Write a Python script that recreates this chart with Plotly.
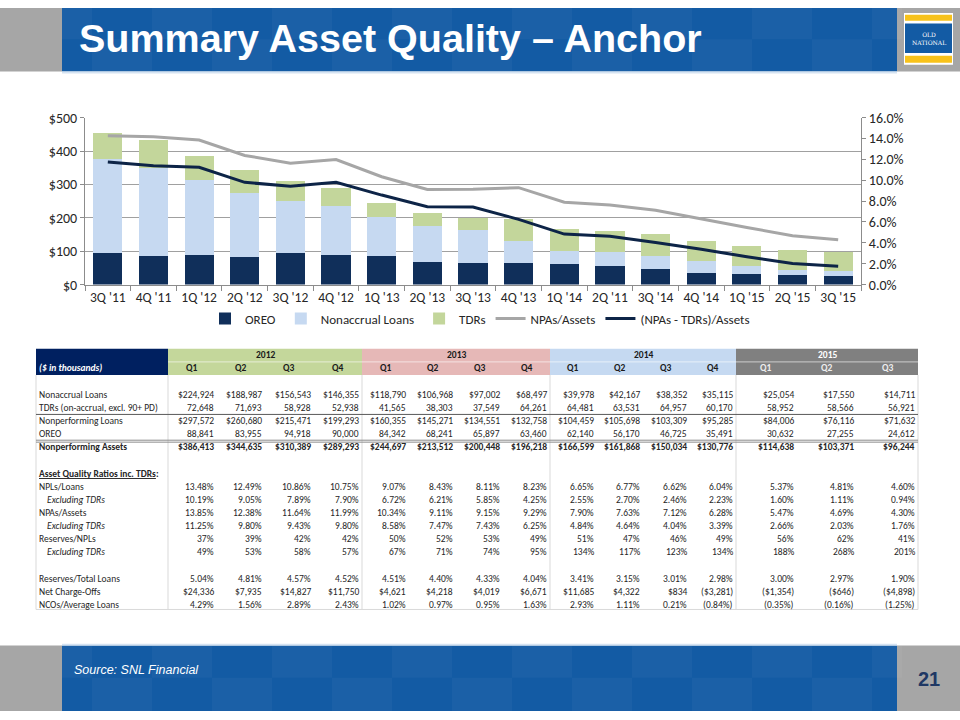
import plotly.graph_objects as go

# ---------------- chart data ($ millions / %) ----------------
quarters = ["3Q '11", "4Q '11", "1Q '12", "2Q '12", "3Q '12", "4Q '12", "1Q '13", "2Q '13",
            "3Q '13", "4Q '13", "1Q '14", "2Q '11", "3Q '14", "4Q '14", "1Q '15", "2Q '15", "3Q '15"]
oreo_m = [94.4, 87.0, 88.8, 84.0, 94.9, 90.0, 84.3, 68.2, 65.9, 63.5, 62.1, 56.2, 46.7, 35.5, 30.6, 27.3, 24.6]
nonaccrual_m = [281.0, 262.0, 224.9, 189.0, 156.5, 146.4, 118.8, 107.0, 97.0, 68.5, 40.0, 42.2, 38.4, 35.1, 25.1, 17.6, 14.7]
tdrs_m = [80.0, 85.0, 72.6, 71.7, 58.9, 52.9, 41.6, 38.3, 37.5, 64.3, 64.5, 63.5, 65.0, 60.2, 59.0, 58.6, 56.9]
npas_assets_pct = [14.27, 14.18, 13.85, 12.38, 11.64, 11.99, 10.34, 9.11, 9.15, 9.29, 7.90, 7.63, 7.12, 6.28, 5.47, 4.69, 4.30]
npas_ex_tdrs_pct = [11.75, 11.38, 11.25, 9.80, 9.43, 9.80, 8.58, 7.47, 7.43, 6.25, 4.84, 4.64, 4.04, 3.39, 2.66, 2.03, 1.76]

# ---------------- table data ($ thousands / %) ----------------
years = ["2012", "2013", "2014", "2015"]
year_quarters = [["Q1", "Q2", "Q3", "Q4"], ["Q1", "Q2", "Q3", "Q4"], ["Q1", "Q2", "Q3", "Q4"], ["Q1", "Q2", "Q3"]]
nonaccrual = [224924, 188987, 156543, 146355, 118790, 106968, 97002, 68497, 39978, 42167, 38352, 35115, 25054, 17550, 14711]
tdrs = [72648, 71693, 58928, 52938, 41565, 38303, 37549, 64261, 64481, 63531, 64957, 60170, 58952, 58566, 56921]
npls = [297572, 260680, 215471, 199293, 160355, 145271, 134551, 132758, 104459, 105698, 103309, 95285, 84006, 76116, 71632]
oreo = [88841, 83955, 94918, 90000, 84342, 68241, 65897, 63460, 62140, 56170, 46725, 35491, 30632, 27255, 24612]
npas = [386413, 344635, 310389, 289293, 244697, 213512, 200448, 196218, 166599, 161868, 150034, 130776, 114638, 103371, 96244]
npls_loans = [13.48, 12.49, 10.86, 10.75, 9.07, 8.43, 8.11, 8.23, 6.65, 6.77, 6.62, 6.04, 5.37, 4.81, 4.60]
npls_loans_ex = [10.19, 9.05, 7.89, 7.90, 6.72, 6.21, 5.85, 4.25, 2.55, 2.70, 2.46, 2.23, 1.60, 1.11, 0.94]
npas_assets = [13.85, 12.38, 11.64, 11.99, 10.34, 9.11, 9.15, 9.29, 7.90, 7.63, 7.12, 6.28, 5.47, 4.69, 4.30]
npas_assets_ex = [11.25, 9.80, 9.43, 9.80, 8.58, 7.47, 7.43, 6.25, 4.84, 4.64, 4.04, 3.39, 2.66, 2.03, 1.76]
reserves_npls = [37, 39, 42, 42, 50, 52, 53, 49, 51, 47, 46, 49, 56, 62, 41]
reserves_npls_ex = [49, 53, 58, 57, 67, 71, 74, 95, 134, 117, 123, 134, 188, 268, 201]
reserves_loans = [5.04, 4.81, 4.57, 4.52, 4.51, 4.40, 4.33, 4.04, 3.41, 3.15, 3.01, 2.98, 3.00, 2.97, 1.90]
net_chargeoffs = [24336, 7935, 14827, 11750, 4621, 4218, 4019, 6671, 11685, 4322, 834, -3281, -1354, -646, -4898]
ncos_avg_loans = [4.29, 1.56, 2.89, 2.43, 1.02, 0.97, 0.95, 1.63, 2.93, 1.11, 0.21, -0.84, -0.35, -0.16, -1.25]

# ---------------- helpers ----------------
W, H = 960, 720
def px(x):
    return x / W
def py(y):
    return 1 - y / H

def f_dollar(v):
    s = "${:,}".format(abs(v))
    return "(" + s + ")" if v < 0 else s
def f_int(v):
    return "{:,}".format(v)
def f_pct2(v):
    s = "{:.2f}%".format(abs(v))
    return "(" + s + ")" if v < 0 else s
def f_pct0(v):
    return "{}%".format(v)

NAVY = "#102F5A"
LINE_NAVY = "#0D2447"
CHART_FONT = "Carlito, Calibri, Lato, sans-serif"
TABLE_FONT = "Carlito, Calibri, Lato, sans-serif"
TITLE_FONT = "'Liberation Sans', Arial, sans-serif"

fig = go.Figure()
fig.add_trace(go.Bar(x=quarters, y=oreo_m, name="OREO", marker_color=NAVY, marker_line_width=0))
fig.add_trace(go.Bar(x=quarters, y=nonaccrual_m, name="Nonaccrual Loans", marker_color="#C6D9F1", marker_line_width=0))
fig.add_trace(go.Bar(x=quarters, y=tdrs_m, name="TDRs", marker_color="#C3D69B", marker_line_width=0))
fig.add_trace(go.Scatter(x=quarters, y=npas_assets_pct, name="NPAs/Assets", mode="lines",
                         line=dict(color="#A6A6A6", width=3), yaxis="y2"))
fig.add_trace(go.Scatter(x=quarters, y=npas_ex_tdrs_pct, name="(NPAs - TDRs)/Assets", mode="lines",
                         line=dict(color=LINE_NAVY, width=3), yaxis="y2"))

shapes = []
ann = []

def rect(x0, y0, x1, y1, color, layer="above"):
    shapes.append(dict(type="rect", xref="paper", yref="paper", x0=px(x0), x1=px(x1),
                       y0=py(y1), y1=py(y0), fillcolor=color, line=dict(width=0), layer=layer))

def hline(x0, x1, y, color, width=1):
    shapes.append(dict(type="line", xref="paper", yref="paper", x0=px(x0), x1=px(x1),
                       y0=py(y), y1=py(y), line=dict(color=color, width=width)))

def vline(x, y0, y1, color, width=1):
    shapes.append(dict(type="line", xref="paper", yref="paper", x0=px(x), x1=px(x),
                       y0=py(y0), y1=py(y1), line=dict(color=color, width=width)))

def text(x, y, s, size=10, color="#262626", xanchor="left", family=TABLE_FONT):
    ann.append(dict(x=px(x), y=py(y), xref="paper", yref="paper", text=s, showarrow=False,
                    xanchor=xanchor, yanchor="middle", font=dict(size=size, color=color, family=family)))

# ---------------- header band ----------------
rect(0, 0, 62, 65, "#A6A6A6")
rect(897, 0, 960, 65, "#A6A6A6")
rect(62, 0, 897, 65, "#135BA4")
for i in range(0, 14):
    rect(62 + 60 * i + (30 if i % 2 else 0), 0, 62 + 60 * i + (30 if i % 2 else 0) + 30, 32, "rgba(255,255,255,0.035)")
    rect(62 + 60 * i + (0 if i % 2 else 30), 32, 62 + 60 * i + (0 if i % 2 else 30) + 30, 65, "rgba(255,255,255,0.035)")
rect(62, 65, 897, 67, "#D5E3F2")
text(77, 31, "<b>Summary Asset Quality – Anchor</b>", size=39.5, color="white", family=TITLE_FONT)
# logo
rect(904, 5, 953, 58, "white")
rect(905, 7, 952, 13, "#F7C21B")
rect(905, 16, 952, 46, "#135BA4")
rect(905, 49, 952, 56, "#F7C21B")
ann.append(dict(x=px(928.5), y=py(31), xref="paper", yref="paper", showarrow=False,
                text="OLD<br>NATIONAL", align="center", xanchor="center", yanchor="middle",
                font=dict(size=6, color="white", family="'DejaVu Serif', 'Liberation Serif', serif")))

# ---------------- footer band ----------------
rect(0, 653, 62, 720, "#A6A6A6")
rect(897, 653, 960, 720, "#A6A6A6")
rect(62, 653, 897, 720, "#135BA4")
for i in range(0, 14):
    rect(62 + 60 * i + (30 if i % 2 else 0), 653, 62 + 60 * i + (30 if i % 2 else 0) + 30, 686, "rgba(255,255,255,0.035)")
    rect(62 + 60 * i + (0 if i % 2 else 30), 686, 62 + 60 * i + (0 if i % 2 else 30) + 30, 720, "rgba(255,255,255,0.035)")
rect(62, 651, 897, 653, "#D5E3F2")
text(72, 678, "<i>Source: SNL Financial</i>", size=12.5, color="white", family="'Liberation Sans', Arial, sans-serif")
text(929, 687, "<b>21</b>", size=20, color="#1F3864", xanchor="center", family=TITLE_FONT)

# ---------------- table ----------------
T_TOP = 349.0
RH = 13.45
T_LEFT = 36.0
LABEL_R = 168.0
group_edges = [168.0, 362.0, 550.0, 736.0, 918.0]
group_fill = ["#C4D79B", "#E6B8B7", "#C5D9F1", "#808080"]
group_text = ["#1a1a1a", "#1a1a1a", "#1a1a1a", "white"]

def row_c(i):
    return T_TOP + (i + 0.5) * RH
def row_top(i):
    return T_TOP + i * RH

col_l, col_r = [], []
for g in range(4):
    n = len(year_quarters[g])
    w = (group_edges[g + 1] - group_edges[g]) / n
    for k in range(n):
        col_l.append(group_edges[g] + k * w)
        col_r.append(group_edges[g] + (k + 1) * w)

rect(T_LEFT, row_top(0), LABEL_R, row_top(2), "#002060")
for g in range(4):
    rect(group_edges[g], row_top(0), group_edges[g + 1], row_top(2), group_fill[g])
hline(LABEL_R, group_edges[-1], row_top(1), "rgba(255,255,255,0.6)", 1)
text(T_LEFT + 1, row_c(1), "<b><i>($ in thousands)</i></b>", size=9.5, color="white")
ci = 0
for g in range(4):
    text((group_edges[g] + group_edges[g + 1]) / 2, row_c(0), "<b>" + years[g] + "</b>", size=9.5,
         color=group_text[g], xanchor="center")
    for q in year_quarters[g]:
        text((col_l[ci] + col_r[ci]) / 2, row_c(1), "<b>" + q + "</b>", size=9.5,
             color=("#1a1a1a" if g < 3 else "#EEEEEE"), xanchor="center")
        ci += 1

body_bottom = row_top(20) - 2
for x in [T_LEFT] + group_edges:
    vline(x, row_top(2), body_bottom, "#D9D9D9", 1)
hline(T_LEFT, group_edges[-1], body_bottom, "#D9D9D9", 1)
hline(T_LEFT, group_edges[-1], row_top(5), "#595959", 1)
hline(T_LEFT, group_edges[-1], row_top(7) - 0.5, "#8C8C8C", 1)
hline(T_LEFT, group_edges[-1], row_top(7) + 1.5, "#8C8C8C", 1)

rows = [
    (3, "Nonaccrual Loans", nonaccrual, f_dollar, ""),
    (4, "TDRs (on-accrual, excl. 90+ PD)", tdrs, f_int, ""),
    (5, "Nonperforming Loans", npls, f_dollar, ""),
    (6, "OREO", oreo, f_int, ""),
    (7, "Nonperforming Assets", npas, f_dollar, "b"),
    (10, "NPLs/Loans", npls_loans, f_pct2, ""),
    (11, "Excluding TDRs", npls_loans_ex, f_pct2, "i"),
    (12, "NPAs/Assets", npas_assets, f_pct2, ""),
    (13, "Excluding TDRs", npas_assets_ex, f_pct2, "i"),
    (14, "Reserves/NPLs", reserves_npls, f_pct0, ""),
    (15, "Excluding TDRs", reserves_npls_ex, f_pct0, "i"),
    (17, "Reserves/Total Loans", reserves_loans, f_pct2, ""),
    (18, "Net Charge-Offs", net_chargeoffs, f_dollar, ""),
    (19, "NCOs/Average Loans", ncos_avg_loans, f_pct2, ""),
]
text(T_LEFT + 1, row_c(9), "<b><u>Asset Quality Ratios inc. TDRs</u>:</b>", size=9.5)
for (ri, label, vals, fmt, style) in rows:
    if style == "b":
        text(T_LEFT + 1, row_c(ri), "<b>" + label + "</b>", size=9.5)
    elif style == "i":
        text(T_LEFT + 9, row_c(ri), "<i>" + label + "</i>", size=9.5)
    else:
        text(T_LEFT + 1, row_c(ri), label, size=9.5)
    for c, v in enumerate(vals):
        s = fmt(v)
        if style == "b":
            s = "<b>" + s + "</b>"
        text(col_r[c] - 1, row_c(ri), s, size=9.5, xanchor="right")

# ---------------- layout ----------------
fig.update_layout(
    width=W, height=H, margin=dict(l=0, r=0, t=0, b=0, pad=0),
    paper_bgcolor="white", plot_bgcolor="white",
    barmode="stack", bargap=0.36,
    font=dict(family=CHART_FONT, size=13, color="#262626"),
    showlegend=True,
    legend=dict(orientation="h", x=0.5, y=py(318), xanchor="center", yanchor="middle",
                traceorder="normal", font=dict(size=13, family=CHART_FONT, color="#262626"),
                bgcolor="rgba(0,0,0,0)", itemwidth=30),
    xaxis=dict(domain=[px(85), px(861)], showline=True, linecolor="#8C8C8C", ticks="outside",
               tickson="boundaries", ticklen=5, tickcolor="#8C8C8C", showgrid=False,
               tickfont=dict(size=13.5), fixedrange=True),
    yaxis=dict(domain=[py(283.3), py(112.3)], range=[0, 500], dtick=100, tickprefix="$",
               showgrid=True, gridcolor="#A0A0A0", gridwidth=1, showline=True, linecolor="#8C8C8C",
               ticks="outside", ticklen=4, tickcolor="#8C8C8C", zeroline=False, tickfont=dict(size=14)),
    yaxis2=dict(overlaying="y", side="right", anchor="x", range=[0, 16], dtick=2, tickformat=".1f",
                ticksuffix="%", showgrid=False, showline=True, linecolor="#8C8C8C", ticks="outside",
                ticklen=4, tickcolor="#8C8C8C", zeroline=False, tickfont=dict(size=14)),
    shapes=shapes, annotations=ann,
)

fig.write_html("out.html", config={"displayModeBar": False},
               post_script="document.body.style.margin='0px';")
